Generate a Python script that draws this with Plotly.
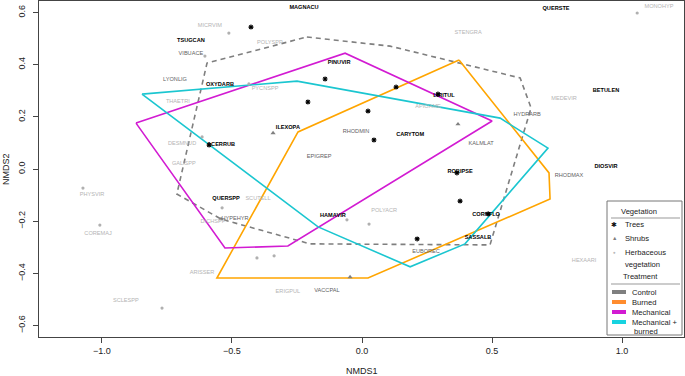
import plotly.graph_objects as go

# ---------------- data (NMDS scores) ----------------
tree_pt_x = [-0.427, -0.142, -0.208, 0.023, 0.131, 0.292, 0.046, 0.365, 0.377, 0.212, 0.485, -0.588]
tree_pt_y = [0.544, 0.345, 0.257, 0.222, 0.314, 0.287, 0.111, -0.015, -0.123, -0.268, -0.172, 0.092]

shrub_pt_x = [-0.342, 0.369, -0.046, -0.542]
shrub_pt_y = [0.138, 0.172, -0.414, -0.192]

herb_pt_x = [-0.512, 1.058, -0.435, -0.615, -0.538, -0.058, 0.027, -1.073, -1.008, -0.769, -0.404, -0.338, -0.604]
herb_pt_y = [0.521, 0.598, 0.326, 0.123, -0.149, -0.195, -0.211, -0.073, -0.215, -0.533, -0.341, -0.333, 0.433]

tree_names = ["MAGNACU", "TSUGCAN", "OXYDARB", "PINUVIR", "LIRITUL", "ACERRUB", "ILEXOPA", "CARYTOM",
              "ROBIPSE", "QUERSPP", "HAMAVIR", "CORNFLO", "SASSALB", "QUERSTE", "BETULEN", "DIOSVIR"]
tree_lab_x = [-0.223, -0.658, -0.546, -0.088, 0.315, -0.542, -0.285, 0.185,
              0.377, -0.523, -0.112, 0.477, 0.446, 0.746, 0.938, 0.938]
tree_lab_y = [0.617, 0.494, 0.322, 0.406, 0.280, 0.092, 0.157, 0.130,
              -0.011, -0.115, -0.180, -0.176, -0.264, 0.613, 0.299, 0.011]

shrub_names = ["VIBUACE", "LYONLIG", "RHODMIN", "EPIGREP", "KALMLAT", "HYDRARB", "RHODMAX",
               "HYPEHYR", "EUBOREC", "VACCPAL"]
shrub_lab_x = [-0.658, -0.719, -0.023, -0.165, 0.458, 0.635, 0.796, -0.488, 0.246, -0.135]
shrub_lab_y = [0.444, 0.341, 0.142, 0.046, 0.096, 0.207, -0.027, -0.192, -0.318, -0.467]

herb_names = ["MICRVIM", "POLYSPP", "STENGRA", "MONOHYP", "MEDEVIR", "PYCNSPP", "THAETRI", "DESMNUD",
              "GALISPP", "APIOAME", "SCUTELL", "DICHSPP", "POLYACR", "PHYSVIR", "COREMAJ", "SCLESPP",
              "ARISSER", "ERIGPUL", "HEXAARI"]
herb_lab_x = [-0.585, -0.354, 0.408, 1.142, 0.777, -0.373, -0.708, -0.692,
              -0.685, 0.254, -0.400, -0.573, 0.085, -1.038, -1.015, -0.908,
              -0.615, -0.285, 0.854]
herb_lab_y = [0.548, 0.483, 0.521, 0.621, 0.268, 0.310, 0.257, 0.096,
              0.019, 0.241, -0.115, -0.203, -0.161, -0.100, -0.249, -0.506,
              -0.398, -0.471, -0.352]

control_x = [-0.212, 0.108, 0.608, 0.650, 0.492, -0.200, -0.542, -0.712, -0.596]
control_y = [0.506, 0.471, 0.349, 0.234, -0.291, -0.287, -0.192, -0.096, 0.406]

burned_x = [0.373, 0.719, 0.723, 0.023, -0.558, -0.246]
burned_y = [0.418, -0.015, -0.115, -0.418, -0.418, 0.142]

mech_x = [-0.869, -0.065, 0.500, -0.285, -0.527]
mech_y = [0.176, 0.444, 0.184, -0.295, -0.303]

mechburn_x = [-0.846, -0.250, 0.531, 0.715, 0.396, 0.185, -0.169]
mechburn_y = [0.287, 0.337, 0.195, 0.080, -0.287, -0.375, -0.222]

x_ticks = [-1.0, -0.5, 0.0, 0.5, 1.0]
x_ticktext = ["\u22121.0", "\u22120.5", "0.0", "0.5", "1.0"]
y_ticks = [-0.6, -0.4, -0.2, 0.0, 0.2, 0.4, 0.6]
y_ticktext = ["\u22120.6", "\u22120.4", "\u22120.2", "0.0", "0.2", "0.4", "0.6"]

treatments = [["Control"], ["Burned"], ["Mechanical"], ["Mechanical +", "burned"]]
vegetation = [["Trees"], ["Shrubs"], ["Herbaceous", "vegetation"]]

# ---------------- styling ----------------
W, H = 685, 376
ML, MR, MT, MB = 39, 1, 1, 39
FONT = "Liberation Sans, Arial, Helvetica, sans-serif"
C_CONTROL = "#7f7f7f"
C_BURNED = "#FFA500"
C_MECH = "#D21BD2"
C_MECHB = "#1BC6D0"


def close(a):
    return list(a) + [a[0]]


fig = go.Figure()

# hulls
for xs, ys, col, dash in [
    (control_x, control_y, C_CONTROL, "5px,4px"),
    (burned_x, burned_y, C_BURNED, "solid"),
    (mech_x, mech_y, C_MECH, "solid"),
    (mechburn_x, mechburn_y, C_MECHB, "solid"),
]:
    fig.add_trace(go.Scatter(x=close(xs), y=close(ys), mode="lines",
                             line=dict(color=col, width=1.6, dash=dash),
                             hoverinfo="skip"))

# points
fig.add_trace(go.Scatter(x=herb_pt_x, y=herb_pt_y, mode="markers",
                         marker=dict(symbol="circle", size=3.2, color="#b0b0b0")))
fig.add_trace(go.Scatter(x=shrub_pt_x, y=shrub_pt_y, mode="markers",
                         marker=dict(symbol="triangle-up", size=4.5, color="#808080")))
fig.add_trace(go.Scatter(x=tree_pt_x, y=tree_pt_y, mode="markers",
                         marker=dict(symbol="asterisk-open", size=4.2, color="black",
                                     line=dict(color="black", width=1.1))))

# labels
fig.add_trace(go.Scatter(x=herb_lab_x, y=herb_lab_y, mode="text", text=herb_names,
                         textposition="middle center",
                         textfont=dict(family=FONT, size=5.6, color="#b4b4b4")))
fig.add_trace(go.Scatter(x=shrub_lab_x, y=shrub_lab_y, mode="text", text=shrub_names,
                         textposition="middle center",
                         textfont=dict(family=FONT, size=5.6, color="#5f5f5f")))
fig.add_trace(go.Scatter(x=tree_lab_x, y=tree_lab_y, mode="text",
                         text=["<b>%s</b>" % n for n in tree_names],
                         textposition="middle center",
                         textfont=dict(family=FONT, size=5.6, color="black")))

fig.update_layout(
    width=W, height=H,
    margin=dict(l=ML, r=MR, t=MT, b=MB, pad=0),
    paper_bgcolor="white", plot_bgcolor="white",
    showlegend=False, hovermode=False,
    font=dict(family=FONT, color="#222"),
    xaxis=dict(range=[-1.242, 1.238], tickvals=x_ticks, ticktext=x_ticktext,
               showgrid=False, zeroline=False, showline=True, mirror=True,
               linecolor="#444", linewidth=1, ticks="outside", ticklen=5,
               tickcolor="#444", tickfont=dict(size=9, color="#222")),
    yaxis=dict(range=[-0.644, 0.644], tickvals=y_ticks, ticktext=y_ticktext,
               showgrid=False, zeroline=False, showline=True, mirror=True,
               linecolor="#444", linewidth=1, ticks="outside", ticklen=5,
               tickcolor="#444", tickangle=-90, ticklabelstandoff=4,
               tickfont=dict(size=9, color="#222")),
)

PW, PH = W - ML - MR, H - MT - MB


def px(p):
    return (p - ML) / PW


def py(p):
    return 1 - (p - MT) / PH


def text_at(x, y, s, size, color="#222", anchor="center", angle=0):
    return dict(x=px(x), y=py(y), xref="paper", yref="paper", text=s,
                showarrow=False, xanchor=anchor, yanchor="middle", textangle=angle,
                borderpad=0, font=dict(size=size, color=color))


ann = []
# axis titles
ann.append(text_at(362, 371, "NMDS1", 9))
ann.append(text_at(6, 169, "NMDS2", 9, angle=-90))

shapes = []
# legend box
shapes.append(dict(type="rect", xref="paper", yref="paper", x0=px(607), x1=px(682),
                   y0=py(335), y1=py(201), line=dict(color="#777", width=1),
                   fillcolor="white", layer="above"))
for ly in (218, 284):
    shapes.append(dict(type="line", xref="paper", yref="paper", x0=px(611), x1=px(680),
                       y0=py(ly), y1=py(ly), line=dict(color="#999", width=1.2), layer="above"))

ann.append(text_at(639, 211, "Vegetation", 7.6))
ann.append(text_at(640, 276, "Treatment", 7.6))

veg_sym = ["\u2731", "\u25B2", "\u25CF"]
veg_col = ["#111", "#808080", "#b8b8b8"]
veg_sz = [7, 5.5, 4.5]
veg_y = [224, 238, 252]
for i, lines in enumerate(vegetation):
    ann.append(text_at(614, veg_y[i], veg_sym[i], veg_sz[i], color=veg_col[i]))
    for j, s in enumerate(lines):
        ann.append(text_at(624, veg_y[i] + 12 * j, s, 7.6, anchor="left"))

tr_col = [C_CONTROL, "#FF8C2E", C_MECH, "#17D3E0"]
tr_y = [292, 302, 312, 322]
for i, lines in enumerate(treatments):
    shapes.append(dict(type="rect", xref="paper", yref="paper", x0=px(612), x1=px(626),
                       y0=py(tr_y[i] + 2), y1=py(tr_y[i] - 2), line=dict(width=0),
                       fillcolor=tr_col[i], layer="above"))
    for j, s in enumerate(lines):
        ann.append(text_at(631 + 2 * j, tr_y[i] + 9 * j, s, 7.6, anchor="left"))

fig.update_layout(annotations=ann, shapes=shapes)
fig.write_html("out.html", config={"displayModeBar": False, "staticPlot": True},
               post_script="document.body.style.margin='0';")
